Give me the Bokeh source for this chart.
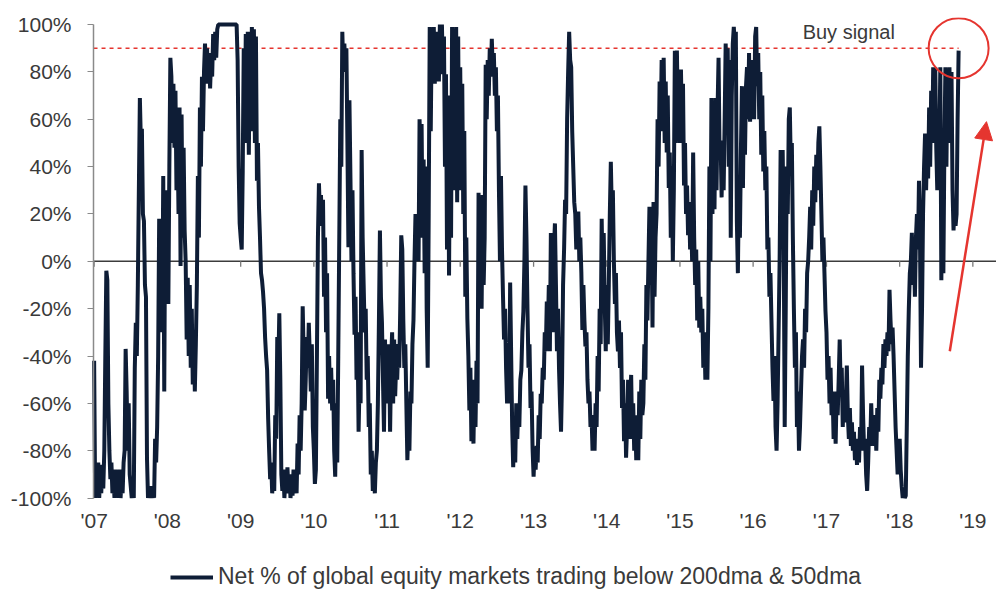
import pandas as pd
from bokeh.plotting import figure
from bokeh.models import (Range1d, FixedTicker, PrintfTickFormatter, DatetimeTickFormatter,
                          Label, Arrow, NormalHead, Legend, LegendItem)
from bokeh.embed import file_html
from bokeh.resources import INLINE

# Net % of global equity markets trading below 200dma & 50dma,
# 72 readings per calendar year (2018 runs through late October)
net_2007 = [-42, -100, -88, -97, -85, -100, -90, -98, -86, -96, -80, -40,
            -4, -8, -60, -80, -92, -85, -98, -90, -100, -88, -97, -90,
            -100, -88, -100, -92, -98, -85, -80, -37, -55, -80, -60, -90,
            -95, -100, -92, -100, -45, -26, -40, -10, 30, 69, 50, 56,
            20, 17, -10, -15, -83, -100, -95, -100, -96, -100, -95, -100,
            -75, -85, -70, -40, 18, -20, 15, -30, 36, -55, 30, -18]
net_2008 = [28, -18, 40, 86, 78, 50, 75, 48, 72, 30, 55, 20,
            65, -2, 62, 10, 48, 13, 0, -33, -7, -40, -10, -45,
            -20, -52, -30, -55, -35, -10, 36, 10, 65, 40, 78, 55,
            80, 92, 75, 90, 76, 88, 73, 86, 78, 96, 85, 97,
            86, 98, 100, 100, 100, 100, 100, 100, 100, 100, 100, 100,
            100, 100, 100, 100, 100, 100, 100, 100, 100, 85, 40, 16]
net_2009 = [10, 5, 38, 90, 50, 96, 60, 97, 45, 90, 55, 99,
            60, 98, 50, 95, 34, 50, 23, 10, -5, -8, -13, -20,
            -32, -40, -46, -66, -80, -92, -85, -98, -90, -97, -65, -75,
            -32, -45, -22, -50, -90, -97, -88, -100, -92, -98, -87, -97,
            -90, -100, -93, -99, -88, -96, -90, -98, -77, -90, -65, -80,
            -60, -19, -40, -63, -50, -32, -45, -26, -40, -55, -35, -70]
net_2010 = [-80, -94, -88, -40, 10, 33, 20, 28, 15, 26, -15, 10,
            -30, -5, -58, -40, -60, -45, -63, -50, -80, -91, -60, -85,
            -40, 10, 60, 40, 97, 80, 92, 82, 90, 50, 6, 68,
            35, 0, 30, -5, -31, -15, -50, -30, -72, -50, -60, 47,
            10, -10, -30, -20, -50, -40, -70, -60, -90, -80, -97, -90,
            -98, -85, -80, -60, -26, 13, -15, -26, -50, -72, -33, -60]
net_2011 = [-40, -57, -35, -72, -43, -30, -60, -33, -57, -43, -50, -35,
            -45, -20, 11, 5, -25, -45, -35, -60, -84, -70, -80, -55,
            -60, -35, -25, 0, 20, 5, 20, 0, 60, 43, 58, 10,
            43, -5, 40, -20, -45, 20, 99, 55, 98, 78, 99, 75,
            97, 80, 95, 76, 100, 85, 100, 79, 95, 40, 79, 5,
            70, -6, 60, 10, 99, 30, 98, 40, 99, 25, 95, 30]
net_2012 = [82, 40, 75, 20, 55, -15, 10, -24, -40, -63, -45, -76,
            -60, -77, -50, -70, -42, -60, 29, -10, 25, -20, 28, -10,
            10, 83, 60, 85, 70, 90, 78, 94, 80, 88, 70, 82,
            55, 70, 30, 0, 36, 5, -15, -33, -20, -45, -60, -40,
            -60, -9, -40, -70, -87, -70, -85, -60, -75, -62, -70, -50,
            -46, -30, -21, 0, 32, 10, -20, -45, -35, -62, -55, -79]
net_2013 = [-91, -80, -88, -78, -85, -65, -75, -56, -60, -45, -50, -30,
            -38, -17, -30, -10, -38, 12, -10, -30, 5, 16, -10, -38,
            -20, -45, -60, -72, -50, -10, 5, 26, 20, 60, 80, 97,
            85, 82, 55, 40, 25, 20, 5, 15, 21, 0, 10, -5,
            -29, -10, -25, -36, -30, -50, -60, -55, -70, -65, -80, -72,
            -80, -60, -70, -40, -55, -20, -35, 18, -10, 12, -18, -38]
net_2014 = [-10, -35, -10, 20, 42, 20, 30, 0, -18, -5, -30, -38,
            -25, -45, -30, -62, -50, -76, -60, -83, -70, -50, -75, -60,
            -48, -75, -60, -80, -65, -84, -70, -84, -55, -75, -50, -65,
            -60, -35, -50, -10, -25, 0, 23, -10, 16, -28, 25, -15,
            10, 20, 60, 40, 76, 55, 85, 69, 86, 50, 76, 46,
            70, 31, 46, 10, 40, 0, 30, 89, 50, 89, 60, 81]
net_2015 = [50, 81, 55, 75, 32, 50, 20, 32, 11, 25, 5, 20,
            0, 46, 10, -10, 5, -25, 0, -28, -15, -30, -20, -45,
            -30, -50, -35, -50, -20, 40, 0, 69, 20, 60, 22, 69,
            30, 64, 86, 45, 51, 27, 50, 30, 60, 92, 67, 90,
            40, 85, 10, 70, 92, 99, 90, 97, 17, -5, 30, 10,
            47, 74, 31, 72, 45, 74, 82, 60, 88, 59, 85, 65]
net_2016 = [80, 60, 95, 99, 74, 88, 60, 80, 45, 70, 38, 55,
            30, 40, 5, 10, -15, -5, -25, -45, -59, -40, -70, -80,
            -60, -30, 0, 47, 20, 47, 10, -70, -20, 40, 20, 60,
            65, 40, 50, 10, -20, -45, -30, -70, -55, -80, -70, -55,
            -40, -33, -45, -20, -30, -5, 0, 10, 23, 5, 30, 15,
            40, 25, 45, 30, 50, 57, 40, 20, 0, 10, -5, -21]
net_2017 = [-30, -50, -40, -60, -45, -65, -55, -75, -60, -77, -55, -65,
            -50, -33, -55, -45, -70, -55, -68, -60, -44, -65, -75, -62,
            -78, -68, -80, -72, -84, -75, -86, -78, -85, -70, -80, -44,
            -65, -80, -75, -90, -97, -85, -70, -78, -60, -75, -65, -78,
            -68, -80, -62, -72, -50, -58, -45, -52, -35, -45, -33, -40,
            -30, -38, -12, -25, -35, -28, -40, -55, -70, -80, -90, -85]
net_2018 = [-75, -88, -95, -100, -97, -100, -99, -70, -40, -20, -5, 0,
            12, -10, 5, -15, 10, 20, 5, 34, 10, -45, -20, 20,
            40, 54, 30, 50, 35, 65, 40, 72, 50, 82, 60, 82,
            48, 30, 60, 48, 82, -8, 30, -5, 48, 82, 40, 80,
            60, 82, 50, 80, 30, 13, 25, 15, 20, 60, 89]

years = list(range(2007, 2019))
yearly_values = [net_2007, net_2008, net_2009, net_2010, net_2011, net_2012,
                 net_2013, net_2014, net_2015, net_2016, net_2017, net_2018]
SAMPLES_PER_YEAR = 72

BUY_LEVEL = 90
y_ticks = [-100, -80, -60, -40, -20, 0, 20, 40, 60, 80, 100]
x_tick_years = list(range(2007, 2020))
legend_text = "Net % of global equity markets trading below 200dma & 50dma"

dates, values = [], []
for yr, vals in zip(years, yearly_values):
    start = pd.Timestamp(yr, 1, 1)
    length = pd.Timestamp(yr + 1, 1, 1) - start
    for i, v in enumerate(vals):
        dates.append(start + length * i / SAMPLES_PER_YEAR)
        values.append(v)

NAVY = "#0e1d36"
RED = "#e5352f"
TEXT = "#3a3a3a"
FONT = "Liberation Sans"


def ms(ts):
    return pd.Timestamp(ts).timestamp() * 1000


# the value axis stands at axis_date; the frame runs on to the left of it
# so that the tick labels have room there
PX_PER_YEAR = 73.2
AXIS_PX = 93
axis_date = pd.Timestamp("2006-12-29")
frame_start = axis_date - pd.Timedelta(days=AXIS_PX * 365.25 / PX_PER_YEAR)
x_end = pd.Timestamp("2019-04-29")

p = figure(width=996, height=605, x_axis_type="datetime",
           x_range=Range1d(frame_start, x_end), y_range=Range1d(-145.4, 103),
           output_backend="svg", toolbar_location=None,
           min_border_left=0, min_border_right=0, min_border_top=17, min_border_bottom=0)
p.outline_line_color = None
p.xgrid.visible = False
p.ygrid.visible = False
p.background_fill_color = "white"
p.border_fill_color = "white"

# y axis
p.yaxis.fixed_location = ms(axis_date)
p.yaxis.ticker = FixedTicker(ticks=y_ticks)
p.yaxis.formatter = PrintfTickFormatter(format="%d%%")
p.yaxis.bounds = (-100, 100)
p.yaxis.axis_line_color = "#8a8a8a"
p.yaxis.axis_line_width = 1.5
p.yaxis.major_tick_line_color = "#8a8a8a"
p.yaxis.major_tick_out = 6
p.yaxis.major_tick_in = 0
p.yaxis.minor_tick_line_color = None
p.yaxis.major_label_standoff = 16
p.yaxis.major_label_text_font = FONT
p.yaxis.major_label_text_font_size = "21px"
p.yaxis.major_label_text_color = TEXT

# x axis: year labels only, pinned just under the -100% line
tick_dates = [pd.Timestamp(y, 1, 1) for y in x_tick_years]
fmt = "'%y"
p.xaxis.fixed_location = -101.5
p.xaxis.ticker = FixedTicker(ticks=[ms(d) for d in tick_dates])
p.xaxis.formatter = DatetimeTickFormatter(
    microseconds=fmt, milliseconds=fmt, seconds=fmt, minsec=fmt, minutes=fmt,
    hourmin=fmt, hours=fmt, days=fmt, months=fmt, years=fmt)
p.xaxis.axis_line_color = None
p.xaxis.major_tick_line_color = None
p.xaxis.major_tick_out = 0
p.xaxis.major_tick_in = 0
p.xaxis.minor_tick_line_color = None
p.xaxis.major_label_standoff = 7
p.xaxis.major_label_text_font = FONT
p.xaxis.major_label_text_font_size = "21px"
p.xaxis.major_label_text_color = TEXT

# zero line with the year ticks hanging from it
p.segment(x0=[axis_date], y0=[0], x1=[x_end], y1=[0], line_color="#3c3c3c", line_width=1.5)
p.segment(x0=tick_dates, y0=[0] * len(tick_dates), x1=tick_dates, y1=[-2.3] * len(tick_dates),
          line_color="#7a7a7a", line_width=1.3)

# buy-signal threshold
p.segment(x0=[axis_date], y0=[BUY_LEVEL], x1=[dates[-1]], y1=[BUY_LEVEL],
          line_color=RED, line_width=1.6, line_dash="4 4")

line_r = p.line(dates, values, line_color=NAVY, line_width=4)

# ring around the latest reading
p.scatter(x=[dates[-1]], y=[BUY_LEVEL], marker="circle", size=60,
          fill_color=None, line_color=RED, line_width=2)

p.add_layout(Label(x=ms("2016-09-04"), y=97, text="Buy signal",
                   text_font=FONT, text_font_size="20px", text_color=TEXT,
                   text_baseline="alphabetic"))

p.add_layout(Arrow(end=NormalHead(size=18, fill_color=RED, line_color=RED),
                   x_start=ms("2018-09-08"), y_start=-38,
                   x_end=ms("2019-03-10"), y_end=59,
                   line_color=RED, line_width=2.5))

legend = Legend(items=[LegendItem(label=legend_text, renderers=[line_r])],
                location=(170, 15), orientation="horizontal",
                padding=0, margin=0, spacing=0,
                border_line_alpha=0, background_fill_alpha=0,
                glyph_width=43, glyph_height=20, label_standoff=5,
                label_text_font=FONT, label_text_font_size="23px", label_text_color=TEXT)
p.add_layout(legend)

open("out.html", "w").write(file_html(p, INLINE))
